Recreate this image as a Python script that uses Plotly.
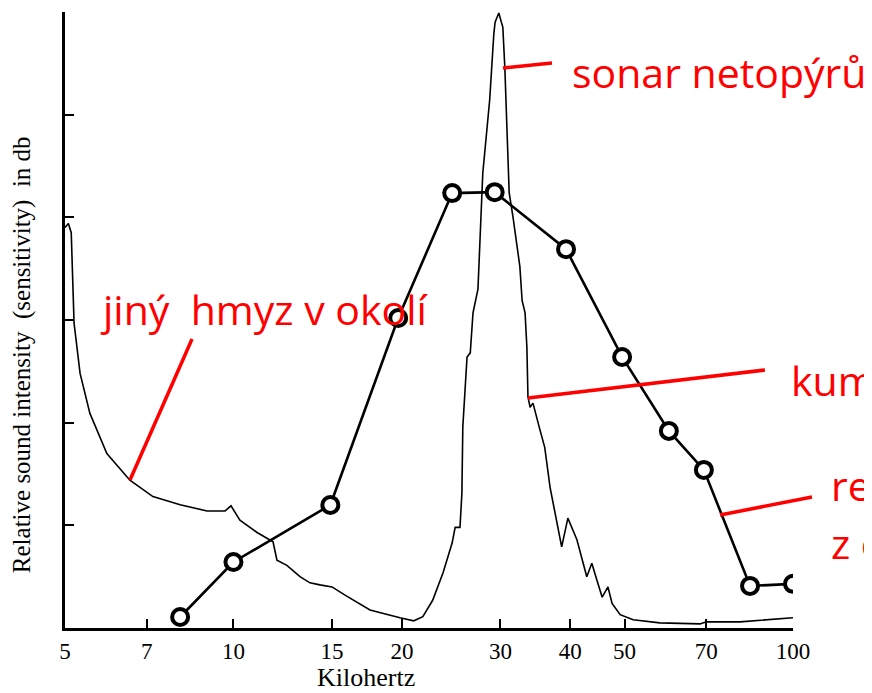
import plotly.graph_objects as go

# Thin spectrum curve (bat sonar / other insects) - kHz and relative dB units
spec_khz = [5.0, 5.07, 5.13, 5.19, 5.32, 5.54, 5.94, 6.53, 7.18, 8.03, 8.97, 9.66, 9.90, 10.27,
            11.02, 11.77, 11.96, 12.46, 13.15, 13.70, 14.28, 15.0, 15.83, 17.54, 19.84, 21.0,
            21.8, 22.7, 23.7, 24.6, 24.9, 25.4, 25.6, 25.7, 26.15, 26.5, 26.8, 27.35, 27.9,
            28.7, 29.2, 29.35, 29.8, 30.3, 30.55, 30.8, 31.1, 31.6, 32.5, 32.8, 33.2, 33.45,
            33.6, 33.9, 34.3, 35.3, 36.0, 36.8, 37.9, 38.6, 39.6, 41.1, 42.8, 43.7, 44.6,
            45.6, 46.7, 47.5, 49.1, 51.8, 57.8, 68.2, 70.0, 80.4, 100.0]
spec_db = [3.90, 3.94, 3.85, 2.97, 2.48, 2.09, 1.70, 1.44, 1.28, 1.20, 1.14, 1.14, 1.19, 1.05,
           0.93, 0.84, 0.66, 0.61, 0.50, 0.44, 0.42, 0.40, 0.32, 0.175, 0.10, 0.07,
           0.11, 0.27, 0.54, 0.83, 0.98, 0.98, 1.31, 1.96, 2.64, 2.68, 3.07, 3.30, 4.43,
           5.14, 5.79, 5.90, 5.99, 5.85, 5.46, 4.82, 4.24, 4.00, 3.52, 3.19, 3.07, 2.74,
           2.25, 2.15, 2.19, 1.93, 1.76, 1.37, 1.02, 0.79, 1.07, 0.86, 0.50, 0.63, 0.47,
           0.30, 0.40, 0.24, 0.13, 0.08, 0.05, 0.04, 0.06, 0.06, 0.10]

# Moth ear sensitivity (circles)
sens_khz = [8.03, 10.0, 14.9, 19.7, 24.6, 29.3, 39.3, 49.5, 60.0, 69.3, 83.8, 100.0]
sens_db = [0.107, 0.643, 1.198, 3.02, 4.236, 4.245, 3.69, 2.64, 1.92, 1.54, 0.41, 0.43]

x_ticks = [5, 7, 10, 15, 20, 30, 40, 50, 70, 100]
x_tick_labels = ["5", "7", "10", "15", "20", "30", "40", "50", "70", "100"]
y_ticks = [0, 1, 2, 3, 4, 5, 6]

RED = "#ff0000"
FONT_TXT = "Open Sans"
SERIF = "Liberation Serif"

fig = go.Figure()
fig.add_trace(go.Scatter(x=spec_khz, y=spec_db, mode="lines",
                         line=dict(color="black", width=1.6), showlegend=False))
fig.add_trace(go.Scatter(x=sens_khz, y=sens_db, mode="lines+markers",
                         line=dict(color="black", width=2.6),
                         marker=dict(symbol="circle", size=16, color="white",
                                     line=dict(color="black", width=4)),
                         showlegend=False))

# page body has an 8px margin, so the figure is 8px smaller and margins compensate
fig.update_layout(
    width=864, height=685,
    margin=dict(l=57, r=79, t=4, b=65, autoexpand=False),
    paper_bgcolor="white", plot_bgcolor="white",
    font=dict(family=SERIF, color="black", size=18),
    xaxis=dict(type="log", range=[0.69897, 2.0], tickvals=x_ticks, ticktext=x_tick_labels,
               showgrid=False, zeroline=False, showline=True, linecolor="black", linewidth=3,
               ticks="inside", ticklen=9, tickwidth=2, tickcolor="black",
               tickfont=dict(family=SERIF, size=23, color="black"), automargin=False),
    yaxis=dict(range=[0, 6], tickvals=y_ticks, showticklabels=False,
               showgrid=False, zeroline=False, showline=True, linecolor="black", linewidth=3,
               ticks="inside", ticklen=9, tickwidth=2, tickcolor="black", automargin=False),
)

# axis titles (placed as in the scanned figure)
fig.add_annotation(text="Kilohertz", xref="paper", yref="paper", x=0.413, y=-0.080,
                   xanchor="center", yanchor="middle", showarrow=False,
                   font=dict(family=SERIF, size=26, color="black"))
fig.add_annotation(text="Relative sound intensity  (sensitivity)  in db", xref="paper",
                   yref="paper", x=-0.059, y=0.443, textangle=-90,
                   xanchor="center", yanchor="middle", showarrow=False,
                   font=dict(family=SERIF, size=25, color="black"))

# red pointer lines (paper coordinates)
pointer_lines = [
    (0.6016, 0.9091, 0.6690, 0.9172),
    (0.0893, 0.2403, 0.1745, 0.4692),
    (0.6360, 0.3734, 0.9615, 0.4188),
    (0.8997, 0.1834, 1.0261, 0.2127),
]
for x0, y0, x1, y1 in pointer_lines:
    fig.add_shape(type="line", xref="paper", yref="paper", x0=x0, y0=y0, x1=x1, y1=y1,
                  line=dict(color=RED, width=3.5))

labels = [
    ("sonar netopýrů", 0.693, 0.9026),
    ("jiný\u00a0 hmyz v okolí", 0.046, 0.518),
    ("kum", 0.9945, 0.4026),
    ("re", 1.0494, 0.2321),
    ("z č", 1.0494, 0.138),
]
for txt, x, y in labels:
    fig.add_annotation(text=txt, xref="paper", yref="paper", x=x, y=y,
                       xanchor="left", yanchor="middle", showarrow=False,
                       font=dict(family=FONT_TXT, size=41, color=RED))

fig.write_html("out.html")
